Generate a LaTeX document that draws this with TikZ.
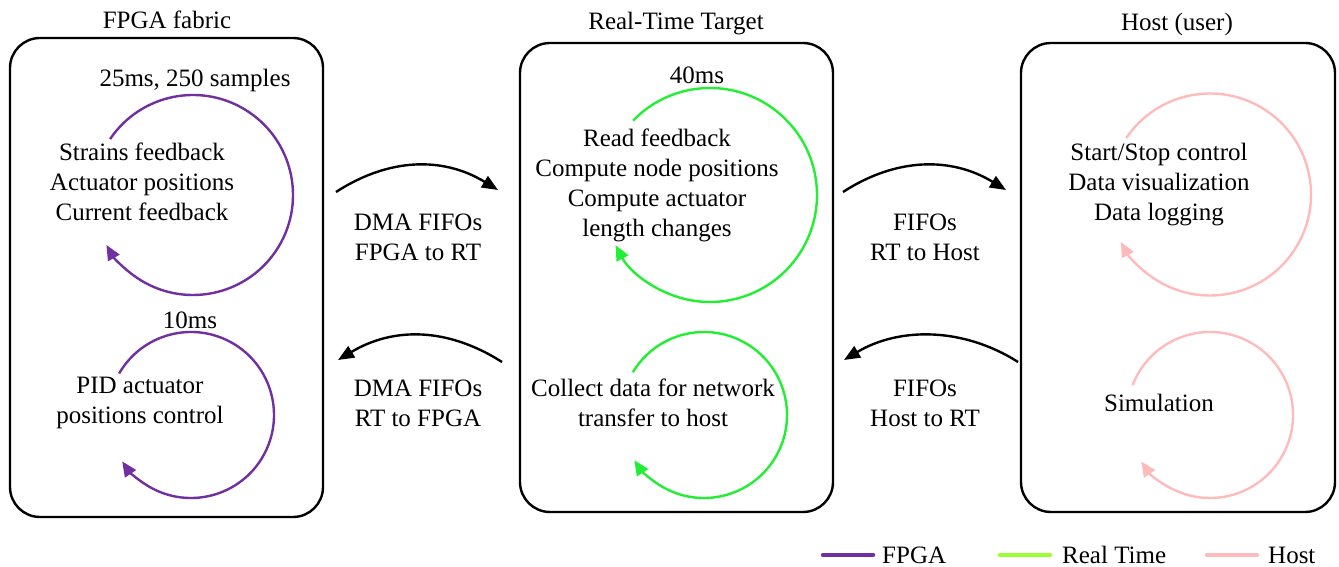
\documentclass[tikz,border=0pt]{standalone}
\usepackage{fontspec}
\setmainfont{Liberation Serif}
\usetikzlibrary{arrows.meta}
\definecolor{fpgac}{RGB}{112,48,160}
\definecolor{rtc}{RGB}{34,238,51}
\definecolor{rtleg}{RGB}{153,255,51}
\definecolor{hostc}{RGB}{255,187,187}
\tikzset{
  panel/.style={draw=black, line width=2.4pt, rounded corners=30pt, inner sep=0pt, minimum width=313pt},
  txt/.style={font=\fontsize{25}{30}\selectfont, align=center, inner sep=0pt},
  loop/.style={line width=2.4pt, -{Triangle[length=15pt,width=13pt]}},
  flow/.style={line width=2.4pt, black, -{Triangle[length=16pt,width=13pt]}},
  legline/.style={line width=4.5pt, line cap=round},
}
\begin{document}
\begin{tikzpicture}[x=1pt,y=1pt]
\useasboundingbox (0,0) rectangle (1339,567);
% panels
\node[panel, minimum height=479pt] (fpga) at (166.5,289.5) {};
\node[panel, minimum height=469pt] (rt) at (676.5,289.5) {};
\node[panel, minimum width=314pt, minimum height=469pt] (host) at (1178,289.5) {};
% titles
\node[txt] (tf) at (167,547) {FPGA fabric};
\node[txt] (tr) at (676,543) {Real-Time Target};
\node[txt] (th) at (1177,543) {Host (user)};
% loops
\draw[loop, fpgac] (193,372) ++(146:100) arc[start angle=146, end angle=-150, radius=100];
\draw[loop, fpgac] (191,152) ++(150:83) arc[start angle=150, end angle=-146, radius=83];
\draw[loop, rtc] (710,372) ++(136:107) arc[start angle=136, end angle=-152, radius=107];
\draw[loop, rtc] (704,152) ++(149:83) arc[start angle=149, end angle=-147, radius=83];
\draw[loop, hostc] (1210,372.5) ++(146:101) arc[start angle=146, end angle=-152, radius=101];
\draw[loop, hostc] (1210,152) ++(159:83) arc[start angle=159, end angle=-146, radius=83];
% loop labels
\node[txt] (l1) at (195,487) {25ms, 250 samples};
\node[txt] (l2) at (190,247) {10ms};
\node[txt] (l3) at (697,492) {40ms};
% texts
\node[txt] (f1) at (142,385) {Strains feedback\\Actuator positions\\Current feedback};
\node[txt] (f2) at (140,164) {PID actuator\\positions control};
\node[txt] (r1) at (657,382) {Read feedback\\Compute node positions\\Compute actuator\\length changes};
\node[txt] (r2) at (653,164) {Collect data for network\\transfer to host};
\node[txt] (h1) at (1159,382) {Start/Stop control\\Data visualization\\Data logging};
\node[txt] (h2) at (1159,164) {Simulation};
% connector labels
\node[txt] (c1) at (418,330) {DMA FIFOs\\FPGA to RT};
\node[txt] (c2) at (418,164) {DMA FIFOs\\RT to FPGA};
\node[txt] (c3) at (925,330) {FIFOs\\RT to Host};
\node[txt] (c4) at (925,164) {FIFOs\\Host to RT};
% connector end points
\coordinate (a1s) at (336,375); \coordinate (a1e) at (498,377);
\coordinate (a2s) at (502,205); \coordinate (a2e) at (338,207);
\coordinate (a3s) at (843,375); \coordinate (a3e) at (1006,377);
\coordinate (a4s) at (1018,205); \coordinate (a4e) at (844,207);
\draw[flow] (a1s) .. controls (390,410) and (444,410) .. (a1e);
\draw[flow] (a2s) .. controls (447,240) and (393,240) .. (a2e);
\draw[flow] (a3s) .. controls (897,410) and (952,410) .. (a3e);
\draw[flow] (a4s) .. controls (963,240) and (899,240) .. (a4e);
% legend
\draw[legline, fpgac] (823,12) -- (873,12);
\node[txt, anchor=west] (lg1) at (882,12) {FPGA};
\draw[legline, rtleg] (1000,12) -- (1050,12);
\node[txt, anchor=west] (lg2) at (1062,12) {Real Time};
\draw[legline, hostc] (1207,12) -- (1257,12);
\node[txt, anchor=west] (lg3) at (1268,12) {Host};
\end{tikzpicture}
\end{document}
